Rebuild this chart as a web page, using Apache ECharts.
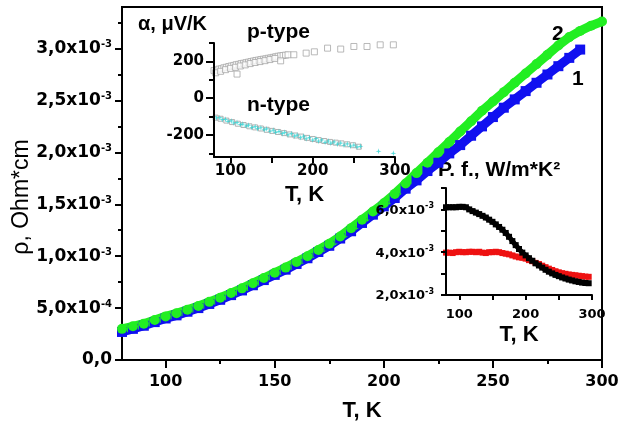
<!DOCTYPE html>
<html><head><meta charset="utf-8">
<script src="https://cdn.jsdelivr.net/npm/echarts@6/dist/echarts.min.js"></script>
<style>html,body{margin:0;padding:0;background:#fff}#c{width:625px;height:430px}</style>
</head><body><div id="c"></div>
<script>
// ---- Main chart: resistivity (values in units of 1e-3 Ohm*cm) ----
const T_main = [80,85,90,95,100,105,110,115,120,125,130,135,140,145,150,155,160,165,170,175,180,185,190,195,200,205,210,215,220,225,230,235,240,245,250,255,260,265,270,275,280,285,290,295,300];
const rho_2 = [0.30,0.325,0.35,0.385,0.42,0.45,0.485,0.52,0.56,0.60,0.645,0.69,0.74,0.79,0.84,0.89,0.945,1.00,1.06,1.12,1.19,1.27,1.35,1.43,1.51,1.60,1.70,1.80,1.90,2.00,2.10,2.20,2.30,2.40,2.49,2.58,2.67,2.76,2.85,2.94,3.03,3.11,3.17,3.22,3.26];
const rho_1 = [0.27,0.30,0.33,0.365,0.40,0.43,0.465,0.50,0.54,0.58,0.625,0.67,0.72,0.77,0.82,0.87,0.925,0.98,1.04,1.10,1.17,1.24,1.32,1.40,1.48,1.56,1.65,1.73,1.82,1.90,1.99,2.07,2.16,2.25,2.34,2.43,2.51,2.59,2.67,2.75,2.83,2.91,2.99];
const mainXTicks = [100,150,200,250,300];
const mainXMinor = [125,175,225,275];
const mainYTicks = [0,0.5,1.0,1.5,2.0,2.5,3.0];
const mainYMinor = [0.25,0.75,1.25,1.75,2.25,2.75,3.25];

// ---- Inset 1: Seebeck coefficient (uV/K) ----
const pT = [80,83,86,89,92,95,98,101,104,107,110,113,116,119,122,125,128,131,134,137,140,143,146,149,152,155,158,161,164,167,170,
            82,88,94,100,106,112,118,124,130,136,142,148,154,108,161,
            177,192,202,218,234,250,266,282,298];
const pS = [150,153,158,160,165,168,172,175,178,182,184,188,190,193,196,199,202,205,207,210,212,214,217,219,222,225,228,230,232,234,236,
            138,146,155,162,168,175,181,188,194,199,204,210,216,131,203,
            236,245,252,272,267,281,281,290,290];
const nT_cyan = [80,83,87,90,94,97,101,104,108,112,115,119,122,126,130,133,137,141,144,148,152,155,159,163,166,170,174,178,181,185,189,192,196,200,204,207,211,215,219,222,226,230,234,238,242,246,250,254,258,280,298];
const nS_cyan = [-100,-108,-106,-117,-115,-126,-124,-135,-133,-144,-141,-152,-147,-160,-155,-166,-161,-172,-167,-180,-174,-186,-181,-193,-186,-200,-193,-207,-201,-214,-207,-221,-214,-228,-220,-234,-227,-240,-233,-245,-238,-250,-244,-256,-249,-261,-255,-266,-262,-289,-300];
const nT_grey = [82,88,95,102,109,116,123,130,137,144,151,158,165,172,179,186,193,200,207,214,221,228,235,242,249,256];
const nS_grey = [-106,-112,-122,-130,-139,-146,-153,-159,-165,-172,-178,-184,-190,-197,-203,-209,-216,-222,-228,-233,-238,-242,-246,-251,-256,-264];
const in1XTicks = [100,150,200,250,300];
const in1XLabels = [100,200,300];
const in1YMajor = [-200,0,200];
const in1YMinor = [-300,-100,100,300];

// ---- Inset 2: power factor (units of 1e-3 W/m*K^2) ----
const T_pf = [80,85,90,95,100,105,110,115,120,125,130,135,140,145,150,155,160,165,170,175,180,185,190,195,200,205,210,215,220,225,230,235,240,245,250,255,260,265,270,275,280,285,290,295];
const pf_black = [6.10,6.10,6.10,6.10,6.12,6.12,6.10,6.00,5.92,5.85,5.78,5.70,5.62,5.52,5.42,5.30,5.18,5.05,4.90,4.72,4.52,4.33,4.15,3.98,3.85,3.72,3.60,3.48,3.38,3.28,3.18,3.09,3.01,2.94,2.88,2.82,2.77,2.72,2.68,2.64,2.61,2.58,2.56,2.55];
const pf_red = [3.98,3.98,3.96,4.00,4.02,4.00,4.00,4.02,4.02,4.00,4.02,3.98,3.96,4.00,4.00,4.02,4.00,3.96,3.93,3.90,3.85,3.80,3.76,3.74,3.70,3.63,3.58,3.50,3.45,3.37,3.30,3.23,3.17,3.11,3.06,3.02,2.99,2.96,2.94,2.92,2.90,2.88,2.86,2.85];
const in2XTicks = [100,150,200,250,300];
const in2XLabels = [100,200,300];
const in2YLabels = [2,4,6];

const zip = (a,b) => a.map((x,i)=>[x,b[i]]);
const TF = 'DejaVu Sans';
const TITLEF = 'Liberation Sans';
const AX = {onZero:false, lineStyle:{color:'#000',width:2}};

function mainYFmt(v){
  if (Math.abs(v) < 1e-9) return '{b|0,0}';
  if (Math.abs(v-0.5) < 1e-9) return '{b|5,0x10}{s|-4}';
  return '{b|' + v.toFixed(1).replace('.',',') + 'x10}{s|-3}';
}
function in2YFmt(v){ return '{b|' + v.toFixed(1).replace('.',',') + 'x10}{s|-3}'; }

const chart = echarts.init(document.getElementById('c'), null, {renderer:'canvas'});
chart.setOption({
  animation:false,
  backgroundColor:'#fff',
  grid:[
    {left:122, top:7, right:23, bottom:70, show:true, borderColor:'#000', borderWidth:2},
    {left:214, top:43, width:181, height:114},
    {left:446, top:188, width:146, height:107}
  ],
  xAxis:[
    {gridIndex:0, type:'value', position:'bottom', min:80, max:300, axisLine:AX,
     axisTick:{customValues:mainXTicks, length:8, lineStyle:{width:2,color:'#000'}},
     axisLabel:{customValues:mainXTicks, margin:14, fontFamily:TF, fontWeight:'bold', fontSize:16, color:'#000'},
     splitLine:{show:false},
     name:'T, K', nameLocation:'middle', nameGap:40, nameTextStyle:{fontFamily:TITLEF, fontWeight:'bold', fontSize:22, color:'#000'}},
    {gridIndex:0, type:'value', position:'bottom', min:80, max:300, axisLine:{show:false, onZero:false},
     axisTick:{customValues:mainXMinor, length:4, lineStyle:{width:2,color:'#000'}},
     axisLabel:{show:false}, splitLine:{show:false}},
    {gridIndex:1, type:'value', position:'bottom', min:80, max:300, axisLine:AX, z:5,
     axisTick:{customValues:in1XTicks, length:6, lineStyle:{width:2,color:'#000'}},
     axisLabel:{customValues:in1XLabels, margin:7, fontFamily:TF, fontWeight:'bold', fontSize:15, color:'#000'},
     splitLine:{show:false},
     name:'T, K', nameLocation:'middle', nameGap:27, nameTextStyle:{fontFamily:TITLEF, fontWeight:'bold', fontSize:22, color:'#000'}},
    {gridIndex:2, type:'value', position:'bottom', min:80, max:300, axisLine:AX, z:5,
     axisTick:{customValues:in2XTicks, length:5, lineStyle:{width:2,color:'#000'}},
     axisLabel:{customValues:in2XLabels, margin:13, fontFamily:TF, fontWeight:'bold', fontSize:13, color:'#000'},
     splitLine:{show:false},
     name:'T, K', nameLocation:'middle', nameGap:29, nameTextStyle:{fontFamily:TITLEF, fontWeight:'bold', fontSize:22, color:'#000'}}
  ],
  yAxis:[
    {gridIndex:0, type:'value', position:'left', min:0, max:3.4, axisLine:AX,
     axisTick:{customValues:mainYTicks, length:7, lineStyle:{width:2,color:'#000'}},
     axisLabel:{customValues:mainYTicks, margin:10, formatter:mainYFmt, color:'#000',
       rich:{b:{fontFamily:TF, fontWeight:'bold', fontSize:17, color:'#000', verticalAlign:'bottom'},
             s:{fontFamily:TF, fontWeight:'bold', fontSize:10, color:'#000', verticalAlign:'bottom', padding:[0,0,8,0]}}},
     splitLine:{show:false}},
    {gridIndex:0, type:'value', position:'left', min:0, max:3.4, axisLine:{show:false, onZero:false},
     axisTick:{customValues:mainYMinor, length:4, lineStyle:{width:2,color:'#000'}},
     axisLabel:{show:false}, splitLine:{show:false}},
    {gridIndex:1, type:'value', position:'left', min:-320, max:300, axisLine:AX, z:5,
     axisTick:{customValues:in1YMajor, length:8, lineStyle:{width:2,color:'#000'}},
     axisLabel:{customValues:in1YMajor, margin:10, fontFamily:TF, fontWeight:'bold', fontSize:15, color:'#000'},
     splitLine:{show:false}},
    {gridIndex:1, type:'value', position:'left', min:-320, max:300, axisLine:{show:false, onZero:false}, z:5,
     axisTick:{customValues:in1YMinor, length:5, lineStyle:{width:2,color:'#000'}},
     axisLabel:{show:false}, splitLine:{show:false}},
    {gridIndex:2, type:'value', position:'left', min:2, max:7, interval:1, axisLine:AX, z:5,
     axisTick:{length:5, lineStyle:{width:2,color:'#000'}},
     axisLabel:{customValues:in2YLabels, margin:12, formatter:in2YFmt, color:'#000',
       rich:{b:{fontFamily:TF, fontWeight:'bold', fontSize:13, color:'#000', verticalAlign:'bottom'},
             s:{fontFamily:TF, fontWeight:'bold', fontSize:8, color:'#000', verticalAlign:'bottom', padding:[0,0,7,0]}}},
     splitLine:{show:false}}
  ],
  series:[
    {type:'line', xAxisIndex:0, yAxisIndex:0, data:zip(T_main, rho_1), symbol:'rect', symbolSize:10,
     lineStyle:{color:'#1010f0', width:9}, itemStyle:{color:'#1010f0'}},
    {type:'line', xAxisIndex:0, yAxisIndex:0, data:zip(T_main, rho_2), symbol:'circle', symbolSize:10,
     lineStyle:{color:'#22ee22', width:9}, itemStyle:{color:'#22ee22'}},
    {type:'scatter', xAxisIndex:2, yAxisIndex:2, data:zip(pT, pS), symbol:'rect', symbolSize:6,
     itemStyle:{color:'#fff', borderColor:'#a8a8a8', borderWidth:1}},
    {type:'scatter', xAxisIndex:2, yAxisIndex:2, data:zip(nT_grey, nS_grey), symbol:'rect', symbolSize:5,
     itemStyle:{color:'#fff', borderColor:'#a0a0a0', borderWidth:1}},
    {type:'scatter', xAxisIndex:2, yAxisIndex:2, data:zip(nT_cyan, nS_cyan),
     symbol:'path://M5,0 L6,4 L10,5 L6,6 L5,10 L4,6 L0,5 L4,4 Z', symbolSize:6,
     itemStyle:{color:'#2cd2d2'}},
    {type:'line', xAxisIndex:3, yAxisIndex:4, data:zip(T_pf, pf_red), symbol:'rect', symbolSize:6,
     lineStyle:{color:'#ee1111', width:5}, itemStyle:{color:'#ee1111'}},
    {type:'line', xAxisIndex:3, yAxisIndex:4, data:zip(T_pf, pf_black), symbol:'rect', symbolSize:6,
     lineStyle:{color:'#000', width:5}, itemStyle:{color:'#000'}}
  ],
  graphic:[
    {type:'text', x:22, y:197, rotation:Math.PI/2, style:{text:'\u03c1, Ohm*cm', fontFamily:TITLEF, fontSize:23, fill:'#000', align:'center', verticalAlign:'middle'}},
    {type:'text', left:138, top:14, style:{text:'\u03b1, \u03bcV/K', fontFamily:TITLEF, fontWeight:'bold', fontSize:20, fill:'#000'}},
    {type:'text', left:247, top:22, style:{text:'p-type', fontFamily:TITLEF, fontWeight:'bold', fontSize:21, fill:'#000'}},
    {type:'text', left:247, top:95, style:{text:'n-type', fontFamily:TITLEF, fontWeight:'bold', fontSize:21, fill:'#000'}},
    {type:'text', left:438, top:160, style:{text:'P. f., W/m*K\u00b2', fontFamily:TITLEF, fontWeight:'bold', fontSize:21, fill:'#000'}},
    {type:'text', left:552, top:24, style:{text:'2', fontFamily:TITLEF, fontWeight:'bold', fontSize:21, fill:'#000'}},
    {type:'text', left:572, top:69, style:{text:'1', fontFamily:TITLEF, fontWeight:'bold', fontSize:21, fill:'#000'}}
  ]
});
</script></body></html>
